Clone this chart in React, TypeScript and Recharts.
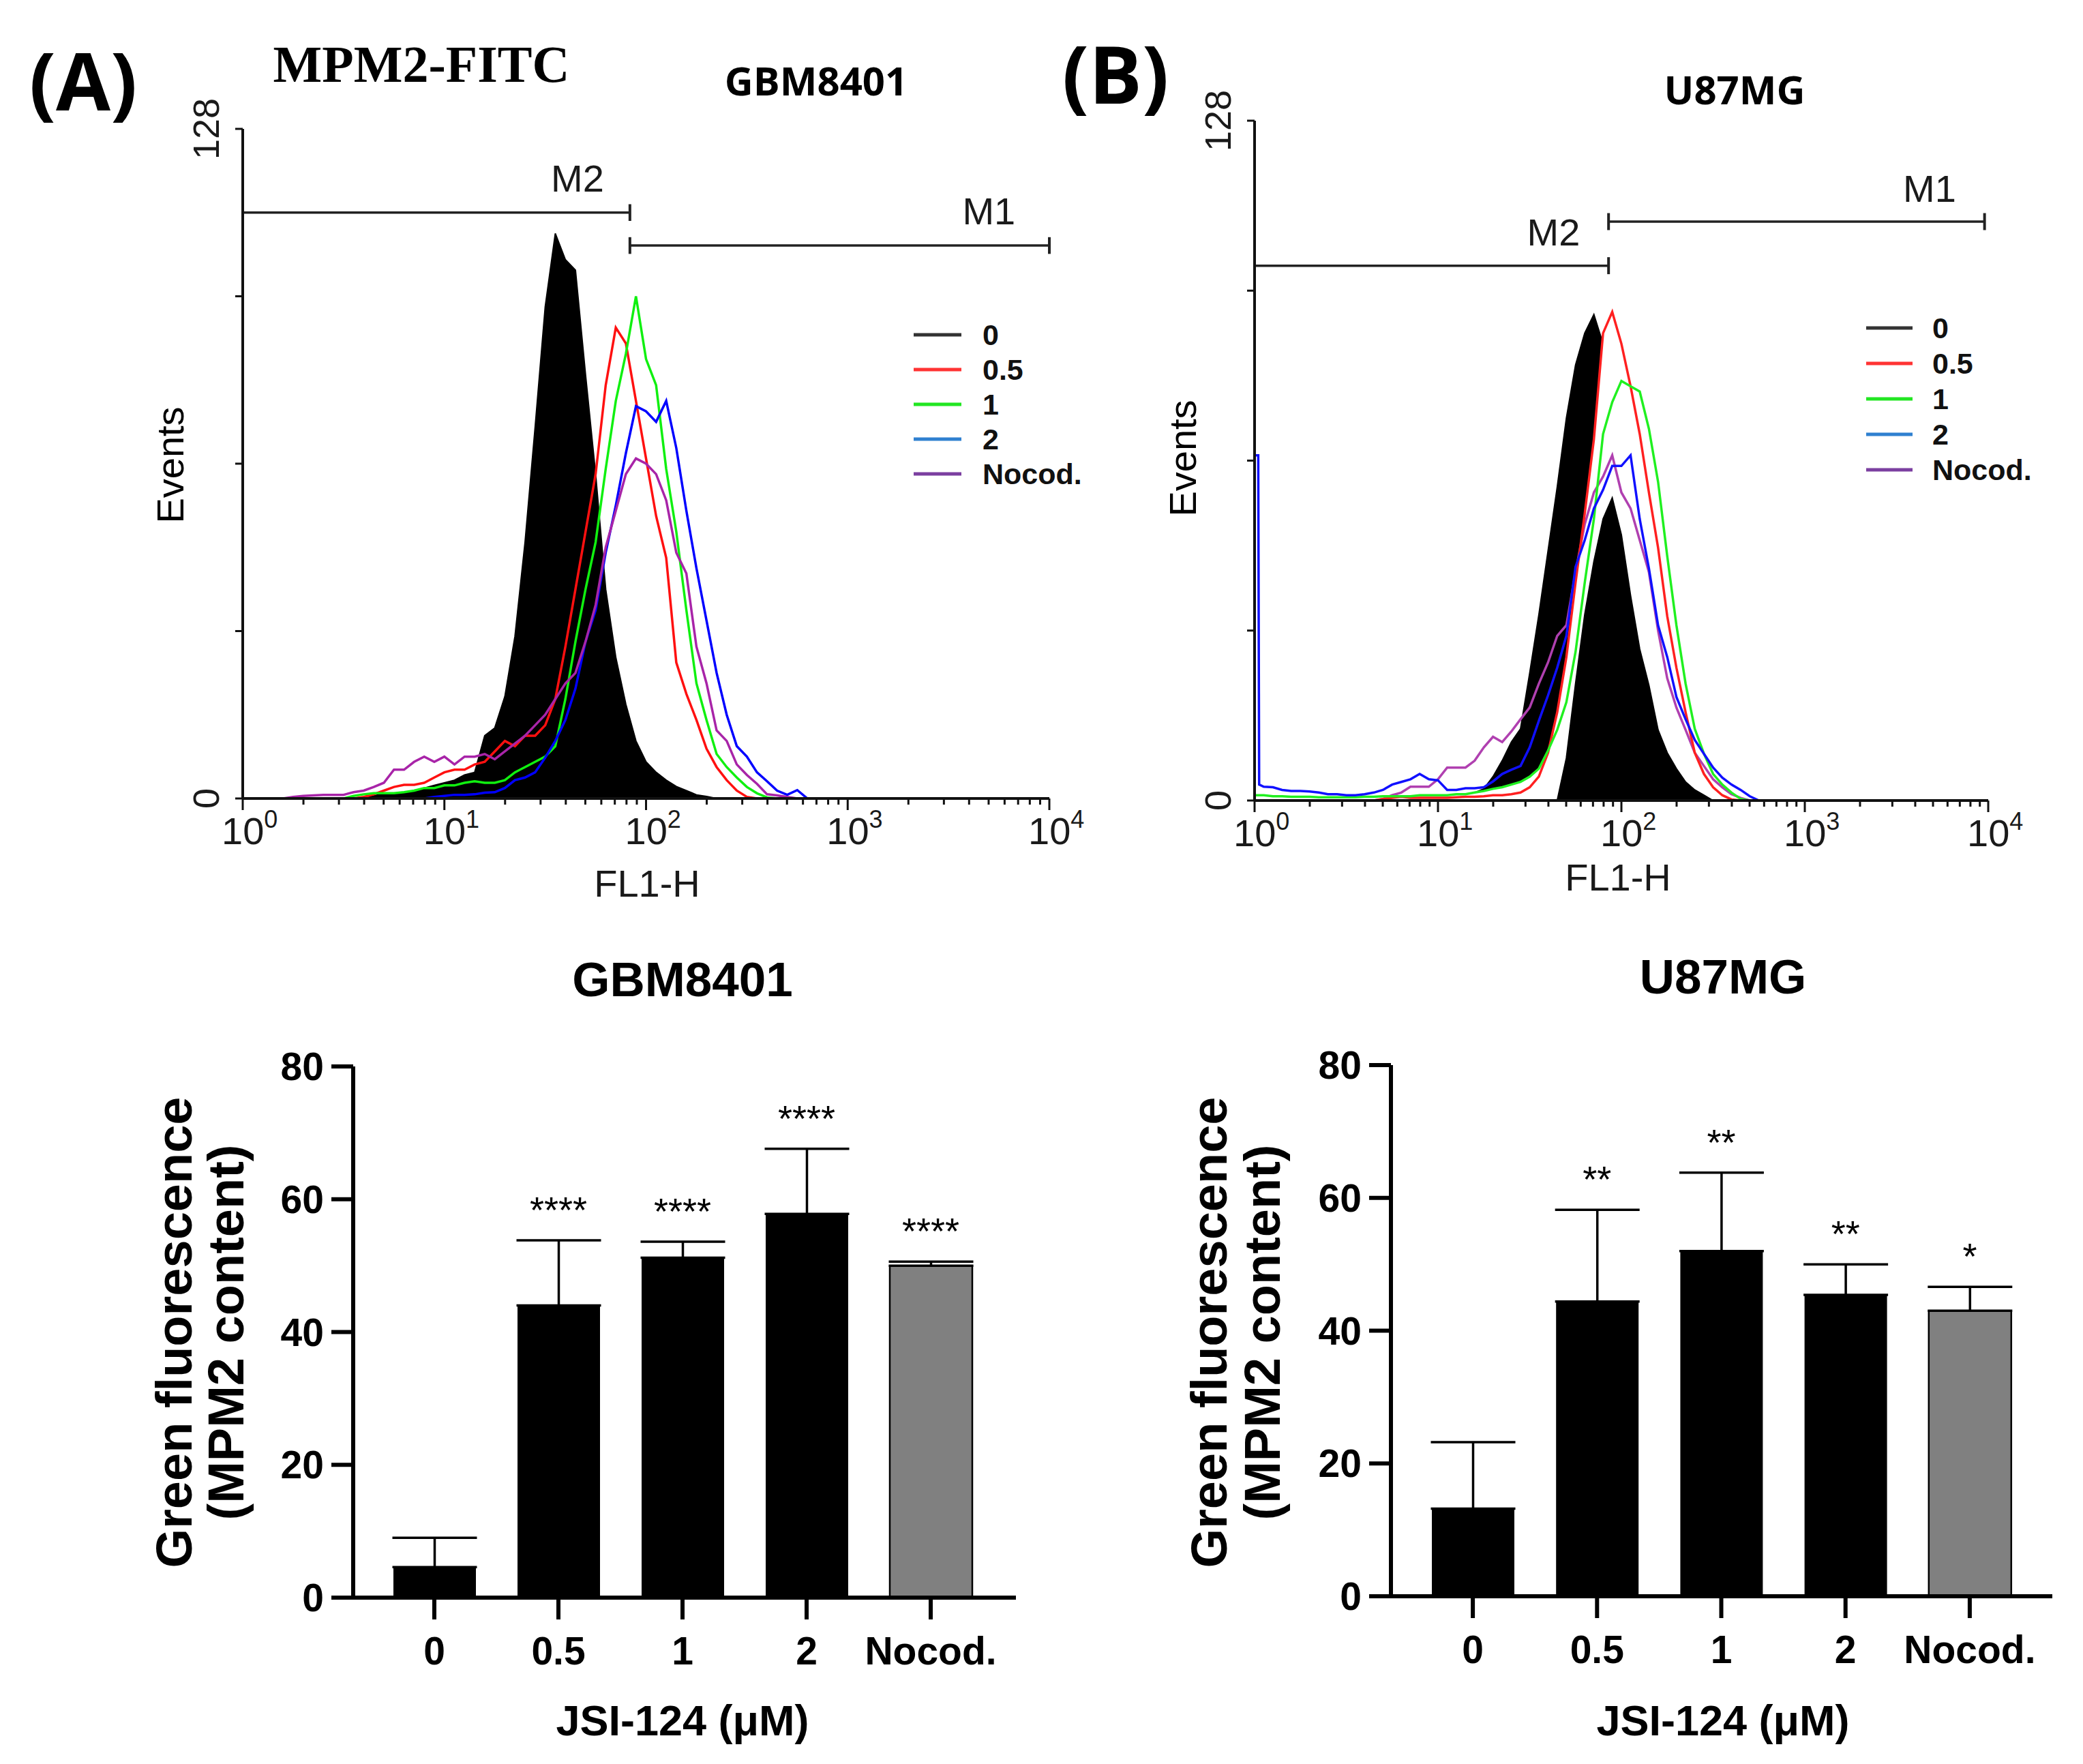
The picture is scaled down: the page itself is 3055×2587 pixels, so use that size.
import React from "react";
import {
  ComposedChart,
  Area,
  Line,
  XAxis,
  YAxis,
  ReferenceLine,
  ReferenceDot,
  BarChart,
  Bar,
  ErrorBar,
  Cell,
} from "recharts";

// ---------- shared labels ----------
const treatments = ["0", "0.5", "1", "2", "Nocod."];
const legendColors = ["#333333", "#ff3333", "#22e622", "#2f80d0", "#7b3fa0"];

// ---------- (A) GBM8401 FL1-H histogram, x = log10(FL1-H) ----------
const gbmChannels = [
  0.2, 0.25, 0.3, 0.35, 0.4, 0.45, 0.5, 0.55, 0.6, 0.65,
  0.7, 0.75, 0.8, 0.85, 0.9, 0.95, 1.0, 1.05, 1.1, 1.15,
  1.2, 1.25, 1.3, 1.35, 1.4, 1.45, 1.5, 1.55, 1.6, 1.65,
  1.7, 1.75, 1.8, 1.85, 1.9, 1.95, 2.0, 2.05, 2.1, 2.15,
  2.2, 2.25, 2.3, 2.35, 2.4, 2.45, 2.5, 2.55, 2.6, 2.65,
  2.7, 2.75, 2.8, 2.85, 2.9,
];
const gbmZero = [
  null, null, null, null, null, null, null, null, 0, 0.5,
  1, 1, 1, 1.5, 2, 2.5, 3, 3.5, 4.5, 5,
  12, 13.5, 19.5, 31, 49, 71, 94, 108, 103, 101,
  81, 62, 40, 27, 18, 11, 7, 5, 3.5, 2.3,
  1.5, 0.7, 0.4, 0, null, null, null, null, null, null,
  null, null, null, null, null,
];
const gbmHalf = [
  null, null, null, null, null, null, null, 0, 0.3, 0.8,
  1.5, 2.2, 2.6, 2.6, 3, 4, 5, 5.5, 5.5, 6.5,
  7, 9, 11, 10, 12, 12, 14, 19, 29, 40,
  51, 62, 79, 90, 87, 76, 65, 54, 46, 26,
  20, 15, 9.5, 6, 3.5, 1.5, 0.3, 0, null, null,
  null, null, null, null, null,
];
const gbmOne = [
  null, null, null, null, null, null, 0, 0.5, 0.8, 1,
  1, 1, 1.2, 1.5, 2, 2, 2.5, 2.5, 3, 3.3,
  3, 3, 3.5, 5, 6, 7, 8, 10, 19, 30,
  40, 49, 63, 76, 85, 96, 84, 79, 63, 51,
  36, 22, 15, 8.5, 6, 4, 2.2, 1, 0.2, 0,
  null, null, null, null, null,
];
const gbmTwo = [
  null, null, null, null, null, null, null, null, null, null,
  null, null, null, null, 0, 0.3, 0.5, 0.7, 0.7, 0.8,
  1.1, 1.2, 2, 3.5, 4, 5, 7.8, 11, 15, 21,
  30, 36, 47, 56, 66, 75, 74, 72, 76, 67,
  55, 44, 34, 24, 16, 10, 8, 5, 3.3, 1.5,
  0.7, 1.6, 0, null, null,
];
const gbmNocod = [
  0, 0.3, 0.5, 0.6, 0.7, 0.7, 0.7, 1.2, 1.5, 2.2,
  3, 5.5, 5.5, 7, 8, 7, 8, 6.5, 8, 8,
  8.5, 7.5, 9, 10.5, 12, 14, 16, 19, 22, 24,
  30, 37, 48, 55, 62, 65, 64, 62, 57, 47,
  43, 29, 22, 13, 11, 6.5, 4.5, 2.8, 0.8, 0.6,
  0.3, 0, null, null, null,
];
const gbmGates = [
  { name: "M2", from: 0, to: 1.92, level: 112, labelX: 1.66, labelY: 118.5 },
  { name: "M1", from: 1.92, to: 4, level: 105.7, labelX: 3.7, labelY: 112.3 },
];

// ---------- (B) U87MG FL1-H histogram ----------
const u87Channels = [
  0, 0.02, 0.025,
  0.05, 0.1, 0.15, 0.2, 0.25, 0.3, 0.35, 0.4, 0.45, 0.5,
  0.55, 0.6, 0.65, 0.7, 0.75, 0.8, 0.85, 0.9, 0.95, 1.0,
  1.05, 1.1, 1.15, 1.2, 1.25, 1.3, 1.35, 1.4, 1.45, 1.5,
  1.55, 1.6, 1.65, 1.7, 1.75, 1.8, 1.85, 1.9, 1.95, 2.0,
  2.05, 2.1, 2.15, 2.2, 2.25, 2.3, 2.35, 2.4, 2.45, 2.5,
  2.55, 2.6, 2.65, 2.7, 2.75, 2.8, 2.85, 2.9,
];
const u87Zero = [
  null, null, null,
  null, null, null, null, null, null, null, null, null, null,
  null, null, null, null, null, null, null, null, null, null,
  0, 0.5, 1, 1.5, 2.2, 4.5, 7.5, 11, 13.5, 24,
  35, 47, 59, 72, 82, 88, 91.5, 86, 70, 55,
  42, 30, 22, 14, 9, 5, 3, 1.7, 0.8, 0,
  null, null, null, null, null, null, null, null,
];
const u87ZeroCore = [
  null, null, null,
  null, null, null, null, null, null, null, null, null, null,
  null, null, null, null, null, null, null, null, null, null,
  null, null, null, null, null, null, null, null, null, null,
  null, null, 0, 8, 22, 35, 45, 53, 57, 50,
  38.6, 28.5, 21.7, 13.3, 9, 6, 3.5, 2, 1, 0,
  null, null, null, null, null, null, null, null,
];
const u87Half = [
  null, null, null,
  null, null, null, null, null, null, null, null, null, null,
  null, null, 0, 0.3, 0.5, 0.7, 0.5, 0.5, 0.5, 0.5,
  0.5, 0.6, 0.7, 0.7, 0.8, 1, 1, 1.2, 1.5, 2.5,
  4.5, 9, 16.6, 27, 41, 54, 68, 88, 92, 86,
  78, 69, 58, 47.6, 34.7, 25, 16.6, 9, 5, 2.5,
  1, 0.2, 0, null, null, null, null, null,
];
const u87One = [
  1, 1, 1,
  1, 0.8, 0.8, 0.7, 0.7, 0.7, 0.6, 0.6, 0.6, 0.6,
  0.6, 0.7, 0.7, 0.8, 0.8, 0.8, 0.8, 1, 1, 1,
  1, 1.2, 1.2, 1.5, 1.8, 2.2, 2.5, 3, 3.5, 4.5,
  6, 9.4, 13.3, 18.5, 28, 41, 53, 69, 75, 79,
  78, 77, 70, 60, 46, 33, 22, 13.5, 8.8, 5,
  3, 1.5, 0.3, 0, null, null, null, null,
];
const u87Two = [
  65, 65, 3,
  2.6, 2.5, 2, 1.8, 1.8, 1.7, 1.5, 1.2, 1.2, 1,
  1, 1.2, 1.5, 2, 3, 3.5, 4, 5, 4, 3.8,
  2, 2, 2.3, 2.3, 2.5, 3.6, 5, 5.8, 6.5, 10,
  15, 19.8, 25, 31, 44, 49, 55, 58.5, 63, 63,
  65, 53, 43.7, 33, 27, 19.5, 15.3, 11.4, 8.8, 6.2,
  4.3, 3, 2, 0.8, 0, null, null, null,
];
const u87Nocod = [
  null, null, null,
  null, null, null, null, null, null, null, null, null, null,
  null, null, 0, 0.3, 1, 1.5, 2.6, 2.6, 2.6, 4,
  6.2, 6.2, 6.2, 7.5, 10, 12, 11, 13, 15.3, 17.5,
  22, 26, 31, 33, 43, 52, 58, 61, 65, 58,
  55, 49, 43, 32, 23, 17.5, 13.3, 9, 6.5, 4,
  2.5, 1.2, 0.5, 0, null, null, null, null,
];
const u87Gates = [
  { name: "M2", from: 0, to: 1.93, level: 100.7, labelX: 1.63, labelY: 107 },
  { name: "M1", from: 1.93, to: 3.98, level: 109, labelX: 3.68, labelY: 115.2 },
];

// ---------- bar charts: green fluorescence (MPM2 content) ----------
const gbmMean = [4.6, 44, 51.2, 57.8, 50];
const gbmSd = [4.4, 9.8, 2.4, 9.8, 0.6];
const gbmStars = ["", "****", "****", "****", "****"];

const u87Mean = [13.2, 44.4, 52, 45.4, 43];
const u87Sd = [10, 13.8, 11.8, 4.6, 3.6];
const u87Stars = ["", "**", "**", "**", "*"];

// ---------- helpers ----------
const facsFont = "'Liberation Sans', Arial, sans-serif";
const boldFont = "'Liberation Sans', Arial, sans-serif";
const calibriLike = "'Open Sans', 'Liberation Sans', sans-serif";

const logTicks = [0, 1, 2, 3]
  .flatMap((d) => [1, 2, 3, 4, 5, 6, 7, 8, 9].map((m) => d + Math.log10(m)))
  .concat([4]);

function LogTick(props: any) {
  const { x, y, payload } = props;
  const v = payload.value as number;
  const major = Math.abs(v - Math.round(v)) < 1e-6;
  return (
    <g>
      <line x1={x} x2={x} y1={y} y2={y + (major ? 17 : 9)} stroke="#111" strokeWidth={3} />
      {major && (
        <text x={x - 31} y={y + 67} fontSize={56} fontFamily={facsFont} fill="#1a1a1a">
          10
          <tspan dy={-24} fontSize={36}>
            {Math.round(v)}
          </tspan>
        </text>
      )}
    </g>
  );
}

function CountTick(props: any) {
  const { x, y, payload } = props;
  const v = payload.value as number;
  const show = v === 0 || v === 128;
  return (
    <g>
      <line x1={x - 11} x2={x} y1={y} y2={y} stroke="#111" strokeWidth={3} />
      {show && (
        <text
          transform={`translate(${x - 54},${y}) rotate(-90)`}
          textAnchor="middle"
          dominantBaseline="central"
          fontSize={54}
          fontFamily={facsFont}
          fill="#1a1a1a"
        >
          {v}
        </text>
      )}
    </g>
  );
}

type Gate = { name: string; from: number; to: number; level: number; labelX: number; labelY: number };
type Trace = { key: string; color: string; mask?: boolean };

function FacsHistogram({
  rows,
  traces,
  gates,
  hasCore,
  width,
  height,
  margin,
}: {
  rows: any[];
  traces: Trace[];
  gates: Gate[];
  hasCore: boolean;
  width: number;
  height: number;
  margin: { top: number; right: number; bottom: number; left: number };
}) {
  return (
    <ComposedChart width={width} height={height} data={rows} margin={margin}>
      <Area
        dataKey="zero"
        type="linear"
        fill="#000"
        fillOpacity={1}
        stroke="#000"
        strokeWidth={2}
        dot={false}
        activeDot={false}
        isAnimationActive={false}
      />
      {traces
        .filter((t) => t.mask)
        .map((t) => (
          <Area
            key={"mask-" + t.key}
            dataKey={t.key}
            type="linear"
            fill="#fff"
            fillOpacity={1}
            stroke="none"
            dot={false}
            activeDot={false}
            isAnimationActive={false}
          />
        ))}
      {hasCore && (
        <Area
          dataKey="core"
          type="linear"
          fill="#000"
          fillOpacity={1}
          stroke="#000"
          strokeWidth={2}
          dot={false}
          activeDot={false}
          isAnimationActive={false}
        />
      )}
      {traces.map((t) => (
        <Line
          key={t.key}
          dataKey={t.key}
          type="linear"
          stroke={t.color}
          strokeWidth={3.5}
          dot={false}
          activeDot={false}
          isAnimationActive={false}
        />
      ))}
      {gates.map((g) => (
        <ReferenceLine
          key={g.name}
          segment={[
            { x: g.from, y: g.level },
            { x: g.to, y: g.level },
          ]}
          stroke="#222"
          strokeWidth={3.5}
        />
      ))}
      {gates.map((g) => (
        <ReferenceLine
          key={g.name + "-capR"}
          segment={[
            { x: g.to, y: g.level - 1.6 },
            { x: g.to, y: g.level + 1.6 },
          ]}
          stroke="#222"
          strokeWidth={4}
        />
      ))}
      {gates
        .filter((g) => g.from > 0)
        .map((g) => (
          <ReferenceLine
            key={g.name + "-capL"}
            segment={[
              { x: g.from, y: g.level - 1.6 },
              { x: g.from, y: g.level + 1.6 },
            ]}
            stroke="#222"
            strokeWidth={4}
          />
        ))}
      {gates.map((g) => (
        <ReferenceDot
          key={g.name + "-label"}
          x={g.labelX}
          y={g.labelY}
          r={0}
          shape={(p: any) => (
            <text
              x={p.cx}
              y={p.cy}
              textAnchor="middle"
              dominantBaseline="central"
              fontSize={56}
              fontFamily={facsFont}
              fill="#1a1a1a"
            >
              {g.name}
            </text>
          )}
        />
      ))}
      <XAxis
        dataKey="ch"
        type="number"
        domain={[0, 4]}
        ticks={logTicks}
        interval={0}
        allowDataOverflow
        tick={(p: any) => <LogTick {...p} />}
        tickLine={false}
        tickSize={0}
        tickMargin={0}
        axisLine={{ stroke: "#111", strokeWidth: 4 }}
        height={100}
      />
      <YAxis
        type="number"
        domain={[0, 128]}
        ticks={[0, 32, 64, 96, 128]}
        interval={0}
        allowDataOverflow
        tick={(p: any) => <CountTick {...p} />}
        tickLine={false}
        tickSize={0}
        tickMargin={0}
        axisLine={{ stroke: "#111", strokeWidth: 4 }}
        width={100}
      />
    </ComposedChart>
  );
}

function MpmBars({
  mean,
  sd,
  stars,
  width,
  height,
  margin,
  padding,
}: {
  mean: number[];
  sd: number[];
  stars: string[];
  width: number;
  height: number;
  margin: { top: number; right: number; bottom: number; left: number };
  padding: { left: number; right: number };
}) {
  const rows = treatments.map((dose, i) => ({ dose, mean: mean[i], err: [0, sd[i]] }));
  const tickStyle = { fill: "#000", fontSize: 57, fontWeight: 700, fontFamily: boldFont };
  return (
    <BarChart width={width} height={height} data={rows} margin={margin}>
      <Bar dataKey="mean" barSize={121} isAnimationActive={false}>
        {rows.map((r, i) => (
          <Cell
            key={r.dose}
            fill={i === 4 ? "#808080" : "#000"}
            stroke="#000"
            strokeWidth={i === 4 ? 2.5 : 0}
          />
        ))}
        <ErrorBar
          dataKey="err"
          direction="y"
          width={62}
          stroke="#000"
          strokeWidth={3.5}
          isAnimationActive={false}
        />
      </Bar>
      {rows.map((r, i) =>
        stars[i] ? (
          <ReferenceDot
            key={"star-" + r.dose}
            x={r.dose}
            y={mean[i] + sd[i]}
            r={0}
            shape={(p: any) => (
              <text
                x={p.cx}
                y={p.cy - 26}
                textAnchor="middle"
                fontSize={54}
                fontFamily={boldFont}
                fill="#000"
              >
                {stars[i]}
              </text>
            )}
          />
        ) : null
      )}
      <XAxis
        dataKey="dose"
        padding={padding}
        interval={0}
        tick={tickStyle}
        tickSize={32}
        tickMargin={26}
        tickLine={{ stroke: "#000", strokeWidth: 6 }}
        axisLine={{ stroke: "#000", strokeWidth: 6 }}
        height={100}
      />
      <YAxis
        type="number"
        domain={[0, 80]}
        ticks={[0, 20, 40, 60, 80]}
        interval={0}
        tick={tickStyle}
        tickSize={32}
        tickMargin={11}
        tickLine={{ stroke: "#000", strokeWidth: 6 }}
        axisLine={{ stroke: "#000", strokeWidth: 6 }}
        width={100}
      />
    </BarChart>
  );
}

function LegendBlock({ x, y, gap, lineLen, textX }: { x: number; y: number; gap: number; lineLen: number; textX: number }) {
  return (
    <g>
      {treatments.map((t, i) => (
        <g key={t}>
          <line x1={x} x2={x + lineLen} y1={y + i * gap} y2={y + i * gap} stroke={legendColors[i]} strokeWidth={5} />
          <text
            x={textX}
            y={y + i * gap}
            dominantBaseline="central"
            fontSize={43}
            fontWeight={700}
            fontFamily={boldFont}
            fill="#111"
          >
            {t}
          </text>
        </g>
      ))}
    </g>
  );
}

function RotLabel({ x, y, text, size, weight, family }: { x: number; y: number; text: string; size: number; weight: number; family: string }) {
  return (
    <text
      transform={`translate(${x},${y}) rotate(-90)`}
      textAnchor="middle"
      dominantBaseline="central"
      fontSize={size}
      fontWeight={weight}
      fontFamily={family}
      fill="#000"
    >
      {text}
    </text>
  );
}

export default function App() {
  const gbmRows = gbmChannels.map((ch, i) => ({
    ch,
    zero: gbmZero[i],
    half: gbmHalf[i],
    one: gbmOne[i],
    two: gbmTwo[i],
    nocod: gbmNocod[i],
  }));
  const u87Rows = u87Channels.map((ch, i) => ({
    ch,
    zero: u87Zero[i],
    core: u87ZeroCore[i],
    half: u87Half[i],
    one: u87One[i],
    two: u87Two[i],
    nocod: u87Nocod[i],
  }));

  const gbmTraces: Trace[] = [
    { key: "half", color: "#ff1010" },
    { key: "one", color: "#10f010" },
    { key: "two", color: "#0000ff" },
    { key: "nocod", color: "#a824a8" },
  ];
  const u87Traces: Trace[] = [
    { key: "nocod", color: "#b040b0" },
    { key: "half", color: "#ff2020", mask: true },
    { key: "one", color: "#20f020", mask: true },
    { key: "two", color: "#1010ff" },
  ];

  return (
    <div style={{ position: "absolute", left: 0, top: 0, width: 3055, height: 2587, background: "#fff" }}>
      <div style={{ position: "absolute", left: 0, top: 0 }}>
        <FacsHistogram
          rows={gbmRows}
          traces={gbmTraces}
          gates={gbmGates}
          hasCore={false}
          width={1700}
          height={1380}
          margin={{ top: 189, right: 161, bottom: 109, left: 256 }}
        />
      </div>
      <div style={{ position: "absolute", left: 1600, top: 0 }}>
        <FacsHistogram
          rows={u87Rows}
          traces={u87Traces}
          gates={u87Gates}
          hasCore={true}
          width={1455}
          height={1380}
          margin={{ top: 177, right: 139, bottom: 106, left: 140 }}
        />
      </div>
      <div style={{ position: "absolute", left: 0, top: 1400 }}>
        <MpmBars
          mean={gbmMean}
          sd={gbmSd}
          stars={gbmStars}
          width={1600}
          height={1187}
          margin={{ top: 164, right: 110, bottom: 144, left: 418 }}
          padding={{ left: 28, right: 34 }}
        />
      </div>
      <div style={{ position: "absolute", left: 1600, top: 1400 }}>
        <MpmBars
          mean={u87Mean}
          sd={u87Sd}
          stars={u87Stars}
          width={1455}
          height={1187}
          margin={{ top: 162, right: 45, bottom: 146, left: 340 }}
          padding={{ left: 29, right: 30 }}
        />
      </div>

      <svg
        width={3055}
        height={2587}
        style={{ position: "absolute", left: 0, top: 0, pointerEvents: "none" }}
      >
        {/* panel letters and headings */}
        <text x={122} y={117} textAnchor="middle" dominantBaseline="central" fontSize={116} fontWeight={700} fontFamily={calibriLike}>
          (A)
        </text>
        <text x={1636} y={107} textAnchor="middle" dominantBaseline="central" fontSize={116} fontWeight={700} fontFamily={calibriLike}>
          (B)
        </text>
        <text x={618} y={94} textAnchor="middle" dominantBaseline="central" fontSize={76} fontWeight={700} fontFamily="'Liberation Serif', 'Times New Roman', serif">
          MPM2-FITC
        </text>
        <text x={1197} y={117} textAnchor="middle" dominantBaseline="central" fontSize={58} fontWeight={700} fontFamily={calibriLike}>
          GBM8401
        </text>
        <text x={2544} y={130} textAnchor="middle" dominantBaseline="central" fontSize={58} fontWeight={700} fontFamily={calibriLike}>
          U87MG
        </text>

        {/* histogram axis titles */}
        <RotLabel x={249} y={682} text="Events" size={56} weight={400} family={facsFont} />
        <RotLabel x={1734} y={672} text="Events" size={56} weight={400} family={facsFont} />
        <text x={949} y={1295} textAnchor="middle" dominantBaseline="central" fontSize={56} fontFamily={facsFont} fill="#1a1a1a">
          FL1-H
        </text>
        <text x={2373} y={1286} textAnchor="middle" dominantBaseline="central" fontSize={56} fontFamily={facsFont} fill="#1a1a1a">
          FL1-H
        </text>

        {/* histogram legends */}
        <LegendBlock x={1340} y={491} gap={51} lineLen={70} textX={1441} />
        <LegendBlock x={2737} y={481} gap={52} lineLen={68} textX={2834} />

        {/* bar chart titles and axis labels */}
        <text x={1001} y={1436} textAnchor="middle" dominantBaseline="central" fontSize={71} fontWeight={700} fontFamily={boldFont}>
          GBM8401
        </text>
        <text x={2527} y={1432} textAnchor="middle" dominantBaseline="central" fontSize={71} fontWeight={700} fontFamily={boldFont}>
          U87MG
        </text>
        <RotLabel x={255} y={1954} text="Green fluorescence" size={74} weight={700} family={boldFont} />
        <RotLabel x={331} y={1954} text="(MPM2 content)" size={74} weight={700} family={boldFont} />
        <RotLabel x={1773} y={1954} text="Green fluorescence" size={74} weight={700} family={boldFont} />
        <RotLabel x={1851} y={1954} text="(MPM2 content)" size={74} weight={700} family={boldFont} />
        <text x={1001} y={2523} textAnchor="middle" dominantBaseline="central" fontSize={63} fontWeight={700} fontFamily={boldFont}>
          JSI-124 (μM)
        </text>
        <text x={2527} y={2523} textAnchor="middle" dominantBaseline="central" fontSize={63} fontWeight={700} fontFamily={boldFont}>
          JSI-124 (μM)
        </text>
      </svg>
    </div>
  );
}
